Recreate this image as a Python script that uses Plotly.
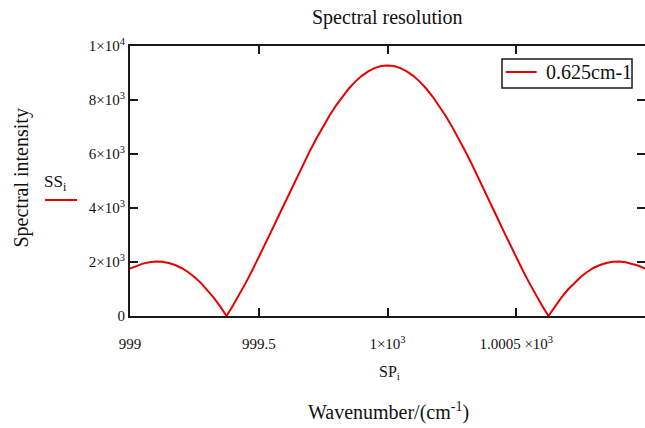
import plotly.graph_objects as go

# ---- data ----
wavenumber = [
    999.000, 999.025, 999.050, 999.075, 999.100, 999.125, 999.150, 999.175,
    999.200, 999.225, 999.250, 999.275, 999.300, 999.325, 999.350, 999.375,
    999.400, 999.425, 999.450, 999.475, 999.500, 999.525, 999.550, 999.575,
    999.600, 999.625, 999.650, 999.675, 999.700, 999.725, 999.750, 999.775,
    999.800, 999.825, 999.850, 999.875, 999.900, 999.925, 999.950, 999.975,
    1000.000,
    1000.025, 1000.050, 1000.075, 1000.100, 1000.125, 1000.150, 1000.175, 1000.200,
    1000.225, 1000.250, 1000.275, 1000.300, 1000.325, 1000.350, 1000.375, 1000.400,
    1000.425, 1000.450, 1000.475, 1000.500, 1000.525, 1000.550, 1000.575, 1000.600,
    1000.625, 1000.650, 1000.675, 1000.700, 1000.725, 1000.750, 1000.775, 1000.800,
    1000.825, 1000.850, 1000.875, 1000.900, 1000.925, 1000.950, 1000.975, 1001.000,
]
intensity = [
    1756, 1860, 1940, 1992, 2015, 2007, 1965, 1889,
    1778, 1631, 1447, 1227, 971, 680, 356, 0,
    386, 798, 1236, 1694, 2170, 2661, 3161, 3668,
    4176, 4682, 5181, 5669, 6142, 6595, 7023, 7424,
    7794, 8129, 8426, 8681, 8894, 9062, 9183, 9256,
    9280,
    9256, 9183, 9062, 8894, 8681, 8426, 8129, 7794,
    7424, 7023, 6595, 6142, 5669, 5181, 4682, 4176,
    3668, 3161, 2661, 2170, 1694, 1236, 798, 386,
    0, 356, 680, 971, 1227, 1447, 1631, 1778,
    1889, 1965, 2007, 2015, 1992, 1940, 1860, 1756,
]
series_name = "0.625cm-1"

x_tickvals = [999, 999.5, 1000, 1000.5]
x_ticktext = ["999", "999.5", "1×10<sup>3</sup>", "1.0005 ×10<sup>3</sup>"]
y_tickvals = [0, 2000, 4000, 6000, 8000, 10000]
y_ticktext = ["0", "2×10<sup>3</sup>", "4×10<sup>3</sup>", "6×10<sup>3</sup>",
              "8×10<sup>3</sup>", "1×10<sup>4</sup>"]

FONT = "Liberation Serif"
AXC = "#1a1a1a"
TXT = "#111111"
RED = "#e60000"

fig = go.Figure()
fig.add_trace(go.Scatter(
    x=wavenumber, y=intensity, mode="lines", name=series_name,
    line=dict(color=RED, width=2), hoverinfo="x+y",
))
# helper trace so the right-hand tick axis is drawn
fig.add_trace(go.Scatter(
    x=[wavenumber[0]], y=[intensity[0]], yaxis="y2", mode="markers",
    marker=dict(opacity=0), showlegend=False, hoverinfo="skip",
))

fig.update_layout(
    width=645, height=428,
    margin=dict(l=130, r=0, t=46, b=112),
    paper_bgcolor="white", plot_bgcolor="white",
    font=dict(family=FONT, size=15, color=TXT),
    showlegend=False,
    xaxis=dict(
        range=[999, 1001], showgrid=False, zeroline=False,
        showline=True, linecolor=AXC, linewidth=2, mirror="ticks",
        ticks="inside", ticklen=8, tickwidth=2, tickcolor=AXC,
        tickvals=x_tickvals, ticktext=x_ticktext,
        tickfont=dict(family=FONT, size=15, color=TXT),
        ticklabelstandoff=13,
    ),
    yaxis=dict(
        range=[0, 10000], showgrid=False, zeroline=False,
        showline=True, linecolor=AXC, linewidth=2,
        ticks="inside", ticklen=8, tickwidth=2, tickcolor=AXC,
        tickvals=y_tickvals, ticktext=y_ticktext,
        tickfont=dict(family=FONT, size=15, color=TXT),
    ),
    yaxis2=dict(
        range=[0, 10000], overlaying="y", side="right",
        showgrid=False, zeroline=False, showline=False,
        ticks="inside", ticklen=8, tickwidth=2, tickcolor=AXC,
        tickvals=y_tickvals, showticklabels=False,
    ),
)

annotations = [
    dict(text="Spectral resolution", x=0.5, y=1.107, xref="paper", yref="paper",
         xanchor="center", yanchor="middle", showarrow=False,
         font=dict(family=FONT, size=20, color=TXT)),
    dict(text="Spectral intensity", x=-0.2107, y=0.511, xref="paper", yref="paper",
         xanchor="center", yanchor="middle", showarrow=False, textangle=-90,
         font=dict(family=FONT, size=20, color=TXT)),
    dict(text="SS<sub>i</sub>", x=-0.1456, y=0.4926, xref="paper", yref="paper",
         xanchor="center", yanchor="middle", showarrow=False,
         font=dict(family=FONT, size=17, color=TXT)),
    dict(text="SP<sub>i</sub>", x=0.503, y=-0.211, xref="paper", yref="paper",
         xanchor="center", yanchor="middle", showarrow=False,
         font=dict(family=FONT, size=16, color=TXT)),
    dict(text="Wavenumber/(cm<sup>-1</sup>)", x=0.501, y=-0.354, xref="paper", yref="paper",
         xanchor="center", yanchor="middle", showarrow=False,
         font=dict(family=FONT, size=20, color=TXT)),
    # legend text
    dict(text=series_name, x=0.8039, y=0.902, xref="paper", yref="paper",
         xanchor="left", yanchor="middle", showarrow=False,
         font=dict(family=FONT, size=20, color=TXT)),
]
fig.update_layout(annotations=annotations)

# trace label at left (Mathcad style)
fig.add_shape(type="line", xref="paper", yref="paper",
              x0=-0.165, x1=-0.1029, y0=0.4296, y1=0.4296,
              line=dict(color=RED, width=2))
# legend box and sample line
fig.add_shape(type="rect", xref="paper", yref="paper",
              x0=0.7223, x1=0.9748, y0=0.8444, y1=0.9519,
              line=dict(color=AXC, width=1.5), fillcolor="white", layer="above")
fig.add_shape(type="line", xref="paper", yref="paper",
              x0=0.7295, x1=0.7897, y0=0.9037, y1=0.9037,
              line=dict(color=RED, width=2), layer="above")

fig.write_html(
    "out.html",
    config={"displayModeBar": False},
    post_script="document.body.style.margin='0';document.body.style.overflow='hidden';",
)
